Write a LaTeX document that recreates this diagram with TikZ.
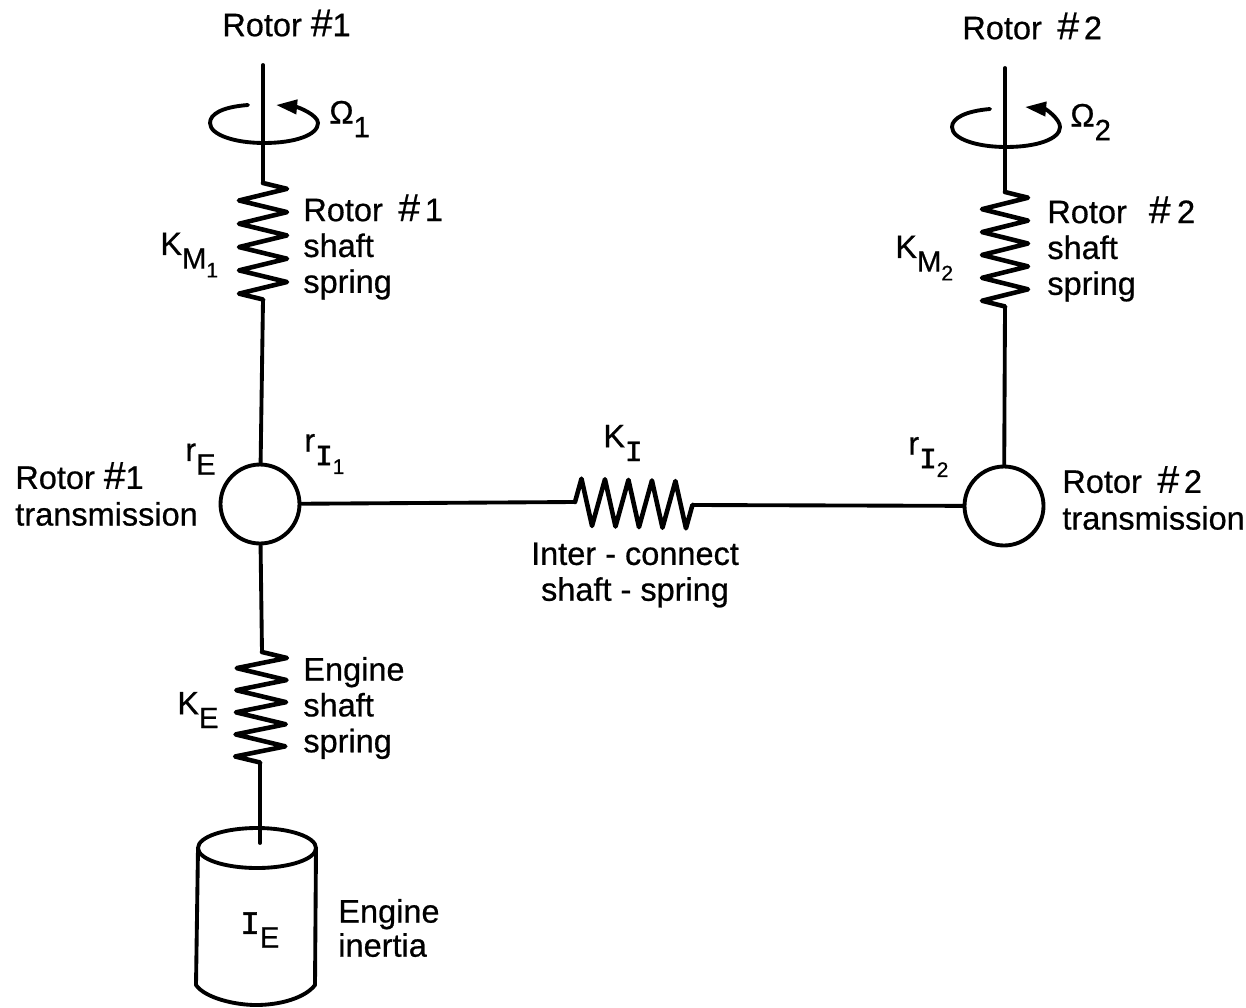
\documentclass[tikz,border=0pt]{standalone}
\usepackage{fontspec}
\setmainfont{Liberation Sans}[FakeBold=0.6]
\newfontfamily\serifletter{Liberation Mono}[FakeBold=1.5]
\usetikzlibrary{arrows.meta}
\usetikzlibrary{decorations.pathmorphing}

\newcommand{\subtext}[1]{\raisebox{-.42em}{\scalebox{.9}{#1}}}
\newcommand{\subsubtext}[1]{\raisebox{-.3em}{\scalebox{.72}{#1}}}
\newcommand{\letterI}{{\serifletter I}}
\newcommand{\hash}{\scalebox{1.2}{\#}}
\newcommand{\rotorname}[1]{Rotor\hspace{.2em} \hash\hspace{.15em}#1}

\begin{document}
\begin{tikzpicture}[x=0.02cm, y=-0.02cm]

\useasboundingbox [fill=white] (0, 0) rectangle (1246, 1007) ;

\tikzstyle{shaft line} = [line width=2.2pt, color=black, line cap=round]
\tikzstyle{shaft spring} = [line width=2.6pt, color=black, line cap=round, line join=round, decorate]
\tikzstyle{spin line} = [line width=2.2pt, color=black, line cap=round, -{Triangle[length=12pt, width=8pt]}]
\tikzstyle{label text} = [anchor=west, inner sep=0pt, align=left, font=\fontsize{18.5}{20.4}\selectfont]
\tikzstyle{transmission} = [shape=circle, draw=black, line width=2.2pt, fill=white, minimum size=1.58cm, inner sep=0pt]

% transmissions

\node [transmission] (transA) at (260, 504) {} ;
\node [transmission] (transB) at (1004, 506) {} ;

% rotor #1 branch

\coordinate (mastA) at (263, 65) ;
\coordinate (springAtop) at (263, 183) ;
\coordinate (springAbot) at (263, 300) ;

\draw [shaft line] (mastA) -- (springAtop) ;
\draw [shaft spring, decoration={zigzag, segment length=0.466cm, amplitude=0.48cm}] (springAtop) -- (springAbot) ;
\draw [shaft line] (springAbot) -- (transA) ;

\draw [spin line] (248, 105) .. controls (222, 107) and (210, 114) .. (210, 123)
	.. controls (210, 135) and (235, 143) .. (264, 143)
	.. controls (295, 143) and (318, 135) .. (318, 123)
	.. controls (318, 115) and (298, 107) .. (276, 105) ;

% rotor #2 branch

\coordinate (mastB) at (1005, 68) ;
\coordinate (springBtop) at (1005, 192) ;
\coordinate (springBbot) at (1005, 307) ;

\draw [shaft line] (mastB) -- (springBtop) ;
\draw [shaft spring, decoration={zigzag, segment length=0.458cm, amplitude=0.46cm}] (springBtop) -- (springBbot) ;
\draw [shaft line] (springBbot) -- (transB) ;

\draw [spin line] (990, 109) .. controls (966, 111) and (952, 118) .. (952, 127)
	.. controls (952, 139) and (977, 147) .. (1006, 147)
	.. controls (1037, 147) and (1060, 139) .. (1060, 127)
	.. controls (1060, 119) and (1046, 109) .. (1025, 107) ;

% interconnect

\coordinate (springItop) at (575, 502) ;
\coordinate (springIbot) at (693, 505) ;

\draw [shaft line] (transA) -- (springItop) ;
\draw [shaft spring, decoration={zigzag, segment length=0.47cm, amplitude=0.47cm}] (springItop) -- (springIbot) ;
\draw [shaft line] (springIbot) -- (transB) ;

% engine branch

\coordinate (springEtop) at (262, 652) ;
\coordinate (springEbot) at (260, 763) ;
\coordinate (shaftEend) at (260, 843) ;

\draw [shaft line] (transA) -- (springEtop) ;
\draw [shaft spring, decoration={zigzag, segment length=0.442cm, amplitude=0.5cm}] (springEtop) -- (springEbot) ;
\draw [shaft line] (springEbot) -- (shaftEend) ;

% engine inertia

\draw [shaft line] (257, 848) ellipse [x radius=59, y radius=20] ;
\draw [shaft line, line join=round] (198, 848) -- (196, 985)
	.. controls (205, 998) and (235, 1005) .. (256, 1005)
	.. controls (280, 1005) and (305, 998) .. (315, 985) -- (316, 848) ;

% text

\node [label text] (titleA) at (222, 23) {Rotor \hash 1} ;
\node [label text] (titleB) at (962, 26) {\rotorname{2}} ;

\node [label text] (omegaA) at (329, 119) {Ω\subtext{1}} ;
\node [label text] (omegaB) at (1070, 122) {Ω\subtext{2}} ;

\node [label text] (labelA) at (303, 247) {\rotorname{1}\\shaft\\spring} ;
\node [label text] (labelB) at (1047, 249) {Rotor\hspace{.4em} \hash\hspace{.2em}2\\shaft\\spring} ;
\node [label text] (labelE) at (303, 708) {Engine\\shaft\\spring} ;

\node [label text] (stiffA) at (160, 255) {K\subtext{M\subsubtext{1}}} ;
\node [label text] (stiffB) at (895, 258) {K\subtext{M\subsubtext{2}}} ;
\node [label text] (stiffE) at (177, 710) {K\subtext{E}} ;
\node [label text] (stiffI) at (603, 443) {K\subtext{\letterI}} ;

\node [label text] (radiusE) at (185, 459) {r\subtext{E}} ;
\node [label text] (radiusA) at (304, 454) {r\subtext{\letterI\subsubtext{1}}} ;
\node [label text] (radiusB) at (908, 457) {r\subtext{\letterI\subsubtext{2}}} ;

\node [label text] (nameA) at (15, 494) {Rotor \hash 1\\[.5pt]transmission} ;
\node [label text] (nameB) at (1062, 498) {\rotorname{2}\\[.5pt]transmission} ;

\node [label text, anchor=center, align=center] (nameI) at (635, 575) {Inter - connect\\shaft - spring} ;

\node [label text] (inertia) at (240, 930) {\letterI\subtext{E}} ;
\node [label text] (nameE) at (338, 928) {Engine\\[-1pt]inertia} ;

\end{tikzpicture}
\end{document}
